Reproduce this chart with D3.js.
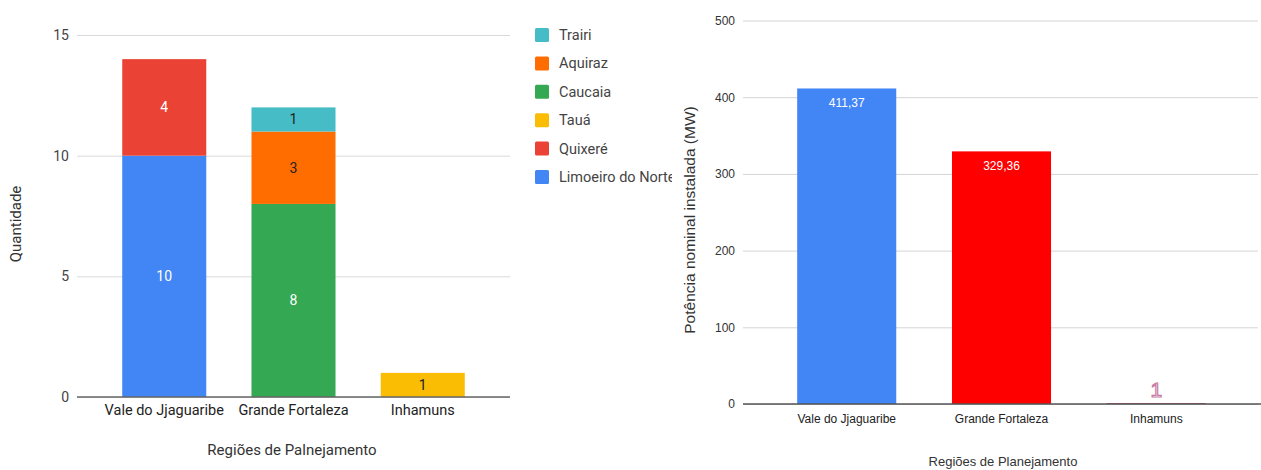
<!DOCTYPE html>
<html>
<head>
<meta charset="utf-8">
<script src="https://cdn.jsdelivr.net/npm/d3@7"></script>
<style>
  body { margin: 0; background: #fff; }
  svg text { font-family: Roboto, "Liberation Sans", Arial, sans-serif; }
  .narrow text { font-family: "Liberation Sans Narrow", "Liberation Sans", Arial, sans-serif; }
</style>
</head>
<body>
<svg id="chart" width="1261" height="470"></svg>
<script>
// data
const regions = ["Vale do Jjaguaribe", "Grande Fortaleza", "Inhamuns"];
const municipios = ["Limoeiro do Norte", "Quixeré", "Tauá", "Caucaia", "Aquiraz", "Trairi"];
const limoeiro = [10, 0, 0];
const quixere = [4, 0, 0];
const taua = [0, 0, 1];
const caucaia = [0, 8, 0];
const aquiraz = [0, 3, 0];
const trairi = [0, 1, 0];
const leftTicks = [0, 5, 10, 15];

const potencia = [411.37, 329.36, 1];
const potenciaLabels = ["411,37", "329,36", "1"];
const rightTicks = [0, 100, 200, 300, 400, 500];

const seriesValues = [limoeiro, quixere, taua, caucaia, aquiraz, trairi];
const seriesColor = ["#4285f4", "#ea4335", "#fbbc04", "#34a853", "#ff6d01", "#46bdc6"];
const labelColor = ["#fff", "#fff", "#222", "#fff", "#222", "#222"];

const svg = d3.select("#chart");

// ---- left chart: stacked columns ----
const left = svg.append("g");
const x1 = d3.scaleBand().domain(regions).range([77, 510]).paddingInner(0.35).paddingOuter(0.35);
const y1 = d3.scaleLinear().domain([0, 15]).range([397, 35]);

left.append("g")
  .attr("transform", "translate(77,0)")
  .call(d3.axisLeft(y1).tickValues(leftTicks).tickSize(-433).tickPadding(8))
  .call(g => g.select(".domain").remove())
  .call(g => g.selectAll(".tick line").attr("stroke", "#d9d9d9"))
  .call(g => g.selectAll(".tick text").attr("fill", "#444").style("font-size", "14px"));

const rows = regions.map((r, i) => {
  const o = { region: r };
  municipios.forEach((m, k) => o[m] = seriesValues[k][i]);
  return o;
});
const stacked = d3.stack().keys(municipios)(rows);

stacked.forEach((layer, k) => {
  layer.forEach((d, i) => {
    if (d[1] - d[0] <= 0) return;
    left.append("rect")
      .attr("x", x1(regions[i]))
      .attr("width", x1.bandwidth())
      .attr("y", y1(d[1]))
      .attr("height", y1(d[0]) - y1(d[1]))
      .attr("fill", seriesColor[k]);
    left.append("text")
      .attr("x", x1(regions[i]) + x1.bandwidth() / 2)
      .attr("y", (y1(d[0]) + y1(d[1])) / 2)
      .attr("dy", "0.35em")
      .attr("text-anchor", "middle")
      .attr("fill", labelColor[k])
      .style("font-size", "14px")
      .text(d[1] - d[0]);
  });
});

left.append("line")
  .attr("x1", 77).attr("x2", 510).attr("y1", y1(0)).attr("y2", y1(0))
  .attr("stroke", "#666").attr("stroke-width", 1.3);

left.append("g")
  .attr("transform", `translate(0,${y1(0)})`)
  .call(d3.axisBottom(x1).tickSize(0).tickPadding(8))
  .call(g => g.select(".domain").remove())
  .call(g => g.selectAll(".tick text").attr("fill", "#222").style("font-size", "14.5px"));

left.append("text")
  .attr("x", 292).attr("y", 455)
  .attr("text-anchor", "middle").attr("fill", "#333").style("font-size", "15px")
  .text("Regiões de Palnejamento");

left.append("text")
  .attr("transform", "translate(21,224) rotate(-90)")
  .attr("text-anchor", "middle").attr("fill", "#333").style("font-size", "15px")
  .text("Quantidade");

// legend (top to bottom in reverse stack order), clipped on the right
svg.append("defs").append("clipPath").attr("id", "legclip")
  .append("rect").attr("x", 520).attr("y", 0).attr("width", 152).attr("height", 220);
const legendOrder = municipios.slice().reverse();
const legend = left.append("g").attr("clip-path", "url(#legclip)")
  .selectAll(".leg").data(legendOrder).join("g")
  .attr("transform", (d, i) => `translate(535,${35 + i * 28.4})`);
legend.append("rect")
  .attr("x", 0).attr("y", -7).attr("width", 14).attr("height", 14).attr("rx", 1.5)
  .attr("fill", d => seriesColor[municipios.indexOf(d)]);
legend.append("text")
  .attr("x", 24).attr("dy", "0.35em")
  .attr("fill", "#444").style("font-size", "14.5px")
  .text(d => d);

// ---- right chart: simple columns ----
const right = svg.append("g").attr("class", "narrow");
const x2 = d3.scaleBand().domain(regions).range([743, 1260]).paddingInner(0.36).paddingOuter(0.35);
const y2 = d3.scaleLinear().domain([0, 500]).range([404, 20.5]);
const barColors = ["#4285f4", "#ff0000", "#c2185b"];

right.append("g")
  .attr("transform", "translate(743,0)")
  .call(d3.axisLeft(y2).tickValues(rightTicks).tickSize(-515).tickPadding(8))
  .call(g => g.select(".domain").remove())
  .call(g => g.selectAll(".tick line").attr("stroke", "#d4d4d4"))
  .call(g => g.selectAll(".tick text").attr("fill", "#333").style("font-size", "12px"));

right.selectAll(".bar").data(potencia).join("rect")
  .attr("x", (d, i) => x2(regions[i]))
  .attr("width", x2.bandwidth())
  .attr("y", d => y2(d))
  .attr("height", d => y2(0) - y2(d))
  .attr("fill", (d, i) => barColors[i]);

right.selectAll(".lbl").data(potencia).join("text")
  .attr("x", (d, i) => x2(regions[i]) + x2.bandwidth() / 2)
  .attr("y", (d, i) => i < 2 ? y2(d) + 19 : y2(d) - 6)
  .attr("text-anchor", "middle")
  .attr("fill", "#fff")
  .attr("stroke", (d, i) => i < 2 ? "none" : "#c77aa3")
  .attr("stroke-width", 1.2)
  .style("font-size", (d, i) => i < 2 ? "12px" : "21px")
  .text((d, i) => potenciaLabels[i]);

right.append("line")
  .attr("x1", 743).attr("x2", 1261).attr("y1", y2(0)).attr("y2", y2(0))
  .attr("stroke", "#555").attr("stroke-width", 1.3);

right.append("g")
  .attr("transform", `translate(0,${y2(0)})`)
  .call(d3.axisBottom(x2).tickSize(0).tickPadding(10))
  .call(g => g.select(".domain").remove())
  .call(g => g.selectAll(".tick text").attr("fill", "#222").style("font-size", "12px"));

right.append("text")
  .attr("x", 1003).attr("y", 466)
  .attr("text-anchor", "middle").attr("fill", "#333").style("font-size", "13px")
  .text("Regiões de Planejamento");

right.append("text")
  .attr("transform", "translate(695,220) rotate(-90)")
  .attr("text-anchor", "middle").attr("fill", "#333").style("font-size", "15.5px")
  .text("Potência nominal instalada (MW)");
</script>
</body>
</html>
